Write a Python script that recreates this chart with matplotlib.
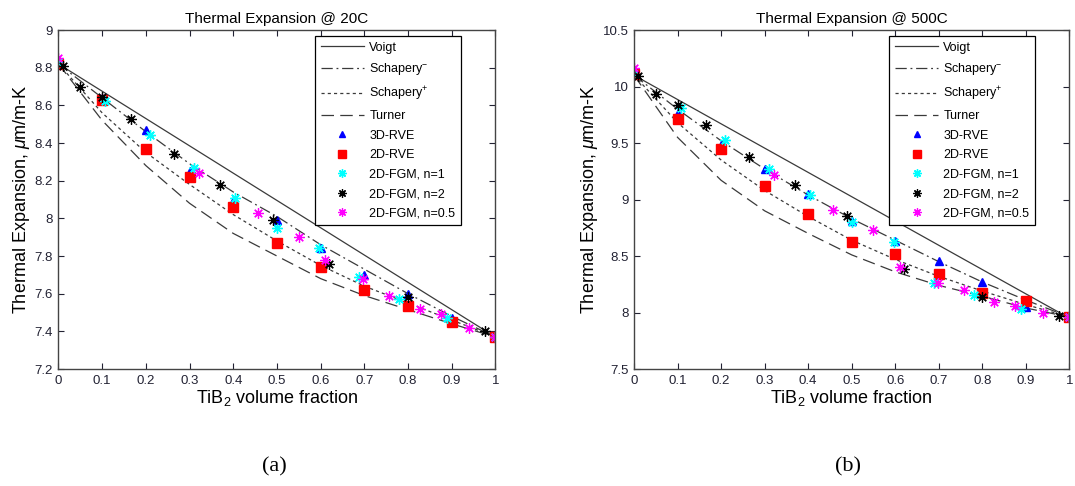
import numpy as np
import matplotlib
matplotlib.use("Agg")
import matplotlib.pyplot as plt
from matplotlib.ticker import FormatStrFormatter

plt.rcParams["font.family"] = ["Liberation Sans", "DejaVu Sans"]
plt.rcParams["mathtext.fontset"] = "custom"
plt.rcParams["mathtext.rm"] = "Liberation Sans"
plt.rcParams["mathtext.it"] = "Liberation Sans:italic"

# =========================
# DATA
# =========================
vf = [0.0, 0.1, 0.2, 0.3, 0.4, 0.5, 0.6, 0.7, 0.8, 0.9, 1.0]

# 20C
voigt_20 = [8.82, 8.675, 8.53, 8.385, 8.24, 8.095, 7.95, 7.805, 7.66, 7.515, 7.37]
schm_20 = [8.82, 8.64, 8.46, 8.29, 8.14, 8.01, 7.86, 7.73, 7.60, 7.48, 7.37]
schp_20 = [8.82, 8.56, 8.35, 8.18, 8.02, 7.88, 7.75, 7.64, 7.55, 7.46, 7.37]
turner_20 = [8.82, 8.52, 8.28, 8.08, 7.92, 7.80, 7.68, 7.59, 7.515, 7.44, 7.37]
rve3d_20 = [8.82, 8.64, 8.47, 8.25, 8.09, 7.99, 7.84, 7.70, 7.60, 7.47, 7.37]
rve2d_20 = [8.82, 8.63, 8.37, 8.22, 8.06, 7.87, 7.74, 7.62, 7.535, 7.45, 7.37]

# 500C
voigt_500 = [10.10, 9.885, 9.67, 9.455, 9.24, 9.025, 8.81, 8.595, 8.38, 8.165, 7.95]
schm_500 = [10.10, 9.80, 9.52, 9.27, 9.04, 8.83, 8.64, 8.45, 8.27, 8.11, 7.96]
schp_500 = [10.10, 9.68, 9.35, 9.08, 8.85, 8.64, 8.47, 8.32, 8.19, 8.07, 7.96]
turner_500 = [10.10, 9.55, 9.17, 8.90, 8.70, 8.51, 8.36, 8.24, 8.145, 8.04, 7.96]
rve3d_500 = [10.11, 9.77, 9.48, 9.27, 9.05, 8.81, 8.63, 8.46, 8.27, 8.05, 7.96]
rve2d_500 = [10.11, 9.71, 9.45, 9.12, 8.87, 8.62, 8.52, 8.34, 8.17, 8.10, 7.96]

# FGM positions
vf_n1 = [0.0, 0.107, 0.21, 0.31, 0.405, 0.5, 0.597, 0.688, 0.78, 0.889, 1.0]
vf_n2 = [0.01, 0.05, 0.1, 0.165, 0.265, 0.37, 0.49, 0.62, 0.8, 0.975]
vf_n05 = [0.0, 0.322, 0.457, 0.55, 0.61, 0.698, 0.757, 0.827, 0.875, 0.94, 1.0]

fgm1_20 = [8.83, 8.624, 8.44, 8.27, 8.11, 7.95, 7.84, 7.69, 7.57, 7.47, 7.37]
fgm2_20 = [8.81, 8.70, 8.645, 8.53, 8.34, 8.175, 7.99, 7.757, 7.585, 7.40]
fgm05_20 = [8.85, 8.24, 8.03, 7.90, 7.78, 7.68, 7.59, 7.52, 7.49, 7.42, 7.37]

fgm1_500 = [10.11, 9.81, 9.53, 9.27, 9.04, 8.80, 8.62, 8.26, 8.155, 8.03, 7.96]
fgm2_500 = [10.09, 9.93, 9.84, 9.66, 9.38, 9.13, 8.855, 8.385, 8.14, 7.97]
fgm05_500 = [10.16, 9.22, 8.91, 8.73, 8.40, 8.26, 8.20, 8.09, 8.06, 7.995, 7.96]

xticks = [0, 0.1, 0.2, 0.3, 0.4, 0.5, 0.6, 0.7, 0.8, 0.9, 1]
yticks_20 = [7.2, 7.4, 7.6, 7.8, 8.0, 8.2, 8.4, 8.6, 8.8, 9.0]
yticks_500 = [7.5, 8.0, 8.5, 9.0, 9.5, 10.0, 10.5]

# =========================
# PLOT
# =========================
fig = plt.figure(figsize=(10.75, 4.86), dpi=100)
ax1 = fig.add_axes([0.0544, 0.2407, 0.4065, 0.6975])
ax2 = fig.add_axes([0.5898, 0.2407, 0.4050, 0.6975])

lc = "#3a3a3a"
star = (8, 2, 0)


def draw(ax, voigt, schm, schp, turner, rve3d, rve2d, f1, f2, f05):
    ax.plot(vf, voigt, "-", color=lc, lw=0.9, label="Voigt")
    ax.plot(vf, schm, color=lc, lw=0.9, dashes=(9, 3, 1.5, 3), label="Schapery$^{-}$")
    ax.plot(vf, schp, color=lc, lw=0.9, dashes=(2.5, 2.5), label="Schapery$^{+}$")
    ax.plot(vf, turner, color=lc, lw=0.9, dashes=(10, 5), label="Turner")
    ax.plot(vf, rve3d, "^", color="#0000ff", ms=5.5, ls="none", label="3D-RVE")
    ax.plot(vf, rve2d, "s", color="#ff0000", ms=6.5, ls="none", label="2D-RVE")
    ax.plot(vf_n1, f1, marker=star, color="#00ffff", mec="#00ffff", ms=7.5, mew=1.0,
            ls="none", label="2D-FGM, n=1")
    ax.plot(vf_n2, f2, marker=star, color="black", mec="black", ms=7.5, mew=0.9,
            ls="none", label="2D-FGM, n=2")
    ax.plot(vf_n05, f05, marker=star, color="#ff00ff", mec="#ff00ff", ms=7.5, mew=0.9,
            ls="none", label="2D-FGM, n=0.5")

    ax.set_xlim(0, 1)
    ax.set_xticks(xticks)
    ax.xaxis.set_major_formatter(FormatStrFormatter("%g"))
    ax.yaxis.set_major_formatter(FormatStrFormatter("%g"))
    ax.tick_params(direction="in", top=True, right=True, labelsize=9.5,
                   length=4, width=0.8, colors="#222233", pad=4)
    for s in ax.spines.values():
        s.set_color("#444444")
        s.set_linewidth(1.0)
    ax.set_xlabel("TiB$_2$ volume fraction", fontsize=13, labelpad=1)
    ax.set_ylabel("Thermal Expansion, $\\mu$m/m-K", fontsize=13, labelpad=2)
    leg = ax.legend(loc="upper right", bbox_to_anchor=(0.921, 0.982), fontsize=9,
                    numpoints=1, handlelength=3.5, handletextpad=0.4,
                    labelspacing=0.6, borderpad=0.45, fancybox=False,
                    framealpha=1, edgecolor="black", borderaxespad=0,
                    markerscale=0.8)
    leg.get_frame().set_linewidth(0.9)


draw(ax1, voigt_20, schm_20, schp_20, turner_20, rve3d_20, rve2d_20,
     fgm1_20, fgm2_20, fgm05_20)
ax1.set_ylim(7.2, 9.0)
ax1.set_yticks(yticks_20)
ax1.set_title("Thermal Expansion @ 20C", fontsize=11, pad=5)

draw(ax2, voigt_500, schm_500, schp_500, turner_500, rve3d_500, rve2d_500,
     fgm1_500, fgm2_500, fgm05_500)
ax2.set_ylim(7.5, 10.5)
ax2.set_yticks(yticks_500)
ax2.set_title("Thermal Expansion @ 500C", fontsize=11, pad=5)

fig.text(0.255, 0.03, "(a)", fontsize=16, family="Liberation Serif", ha="center")
fig.text(0.789, 0.03, "(b)", fontsize=16, family="Liberation Serif", ha="center")

plt.savefig("out.png", dpi=100)
